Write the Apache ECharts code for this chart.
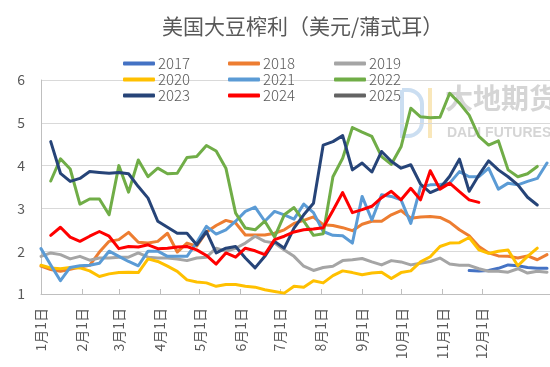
<!DOCTYPE html>
<html>
<head>
<meta charset="utf-8">
<script src="https://cdn.jsdelivr.net/npm/echarts@6/dist/echarts.min.js"></script>
<style>html,body{margin:0;padding:0;background:#fff}#c{width:550px;height:367px}</style>
</head>
<body>
<div id="c"></div>
<script>
// ---- data ----
const titleText = '美国大豆榨利（美元/蒲式耳）';
const monthLabels = ['1月1日','2月1日','3月1日','4月1日','5月1日','6月1日','7月1日','8月1日','9月1日','10月1日','11月1日','12月1日'];
const monthStartDays = [0,31,59,90,120,151,181,212,243,273,304,334];
const years = ['2017','2018','2019','2020','2021','2022','2023','2024','2025'];
const yearColors = ['#4472C4','#ED7D31','#A5A5A5','#FFC000','#5B9BD5','#70AD47','#264478','#FF0000','#636363'];
// weekly observation day (day of year) for each of the 53 weekly slots
const weekDays = Array.from({length: 53}, (_, k) => k * 7.37);

const v2017 = [null,null,null,null,null,null,null,null,null,null,
  null,null,null,null,null,null,null,null,null,null,
  null,null,null,null,null,null,null,null,null,null,
  null,null,null,null,null,null,null,null,null,null,
  null,null,null,null,1.55,1.54,1.55,1.60,1.68,1.66,
  1.62,1.60,1.60];
const v2018 = [1.65,1.57,1.53,1.58,1.63,1.67,1.98,2.23,2.27,2.44,
  2.21,2.19,2.23,2.42,1.98,2.19,2.12,2.45,2.60,2.72,
  2.66,2.38,2.38,2.38,2.42,2.50,2.65,2.72,2.80,2.62,
  2.60,2.55,2.48,2.63,2.70,2.70,2.85,2.95,2.77,2.80,
  2.81,2.79,2.68,2.50,2.36,2.11,1.96,1.89,1.88,1.84,
  1.89,1.80,1.92];
const v2019 = [1.88,1.96,1.92,1.82,1.88,1.79,1.84,1.84,1.86,1.86,
  1.96,1.86,1.84,1.84,1.82,1.78,1.84,1.86,2.07,2.00,
  2.07,2.19,2.35,2.23,2.19,2.03,1.88,1.65,1.55,1.62,
  1.65,1.78,1.80,1.83,1.75,1.68,1.78,1.75,1.68,1.72,
  1.76,1.84,1.70,1.67,1.67,1.59,1.53,1.53,1.51,1.59,
  1.49,1.53,1.51];
const v2020 = [1.67,1.61,1.59,1.62,1.61,1.54,1.41,1.47,1.50,1.51,
  1.50,1.82,1.76,1.65,1.53,1.33,1.28,1.26,1.18,1.22,
  1.22,1.18,1.16,1.10,1.06,1.02,1.18,1.16,1.31,1.26,
  1.43,1.54,1.50,1.45,1.49,1.51,1.36,1.50,1.54,1.75,
  1.87,2.11,2.19,2.20,2.32,2.03,1.95,2.00,2.03,1.66,
  1.88,2.07,null];
const v2021 = [2.06,1.68,1.31,1.62,1.66,1.67,1.72,2.00,1.88,1.76,
  1.66,2.00,2.00,1.88,1.88,1.88,2.20,2.58,2.40,2.50,
  2.70,2.93,3.03,2.70,2.93,2.85,2.75,3.10,2.90,2.46,
  2.37,2.36,2.19,3.28,2.73,3.32,3.28,3.20,2.65,3.50,
  3.55,3.56,3.59,3.86,3.74,3.74,3.94,3.45,3.59,3.55,
  3.63,3.70,4.06];
const v2022 = [null,3.64,4.16,3.92,3.10,3.22,3.22,2.85,4.00,3.38,
  4.13,3.74,3.94,3.81,3.82,4.19,4.21,4.47,4.34,3.94,
  2.89,2.54,2.50,2.70,2.33,2.85,3.02,2.70,2.37,2.41,
  3.74,4.17,4.89,4.78,4.68,4.21,4.03,4.44,5.34,5.14,
  5.12,5.13,5.69,5.46,5.18,4.68,4.48,4.58,3.90,3.74,
  3.81,3.98,null];
const v2023 = [null,4.56,3.82,3.63,3.70,3.86,3.84,3.82,3.84,3.81,
  3.51,3.24,2.70,2.56,2.42,2.42,2.15,2.46,1.96,2.07,
  2.11,1.84,1.61,1.88,2.23,2.07,2.54,2.85,3.12,4.48,
  4.56,4.70,3.90,4.06,3.85,4.33,4.10,3.94,4.02,3.57,
  3.37,3.47,3.75,4.15,3.40,3.78,4.11,3.90,3.74,3.55,
  3.26,3.08,null];
const v2024 = [null,2.37,2.56,2.33,2.23,2.35,2.46,2.35,2.06,2.11,
  2.10,2.15,2.06,2.07,2.10,2.11,2.03,1.90,1.70,1.96,
  1.86,2.07,2.01,1.92,2.27,2.35,2.45,2.50,2.52,2.55,
  2.95,3.37,2.90,2.97,3.05,3.25,3.40,3.20,3.47,3.20,
  3.88,3.45,3.59,3.39,3.20,3.14,null,null,null,null,
  null,null,null];
const v2025 = [];
const yearValues = [v2017,v2018,v2019,v2020,v2021,v2022,v2023,v2024,v2025];

// ---- chart ----
const chart = echarts.init(document.getElementById('c'), null, {renderer: 'canvas'});
const FONT = '"Noto Sans CJK SC", "Noto Sans", sans-serif';
const txt = '#595959';

const series = years.map((y, i) => ({
  name: y,
  type: 'line',
  symbol: 'none',
  color: yearColors[i],
  lineStyle: {width: 3, color: yearColors[i], cap: 'round', join: 'round'},
  data: yearValues[i].map((v, k) => [weekDays[k], v]),
  connectNulls: false,
  z: 3 + i
}));

function legendCol(names, left) {
  return {
    orient: 'vertical', left: left, top: 56, padding: 0, itemGap: 1,
    itemWidth: 32, itemHeight: 4, icon: 'roundRect',
    textStyle: {color: txt, fontSize: 15, fontFamily: FONT, fontWeight: 300, padding: [0,0,0,-2]},
    data: names
  };
}

chart.setOption({
  animation: false,
  backgroundColor: '#fff',
  title: {
    text: titleText, left: 162, top: 16, padding: 0,
    textStyle: {color: txt, fontSize: 21, fontWeight: 'normal', fontFamily: FONT}
  },
  legend: [
    legendCol(['2017','2020','2023'], 123),
    legendCol(['2018','2021','2024'], 228),
    legendCol(['2019','2022','2025'], 334)
  ],
  grid: {left: 41, right: 0, top: 80, bottom: 73, containLabel: false},
  graphic: [
    {type: 'rect', z: 0, silent: true, shape: {x: 402, y: 90, width: 20, height: 46, r: [0, 14, 14, 0]},
      style: {fill: 'none', stroke: 'rgba(160,195,230,0.55)', lineWidth: 4}},
    {type: 'line', z: 0, silent: true, shape: {x1: 430, y1: 88, x2: 430, y2: 138},
      style: {stroke: 'rgba(245,215,140,0.6)', lineWidth: 4}},
    {type: 'text', z: 0, silent: true, left: 445, top: 84,
      style: {text: '大地期货', fontSize: 28, fontWeight: 'bold', fontFamily: FONT, fill: 'rgba(195,195,195,0.7)'}},
    {type: 'text', z: 0, silent: true, left: 447, top: 126,
      style: {text: 'DADI FUTURES', fontSize: 14, fontWeight: 'bold', fontFamily: '"Liberation Sans", sans-serif', fill: 'rgba(195,195,195,0.7)'}}
  ],
  xAxis: {
    type: 'value', min: 0, max: 385.5,
    axisLine: {show: true, lineStyle: {color: '#BFBFBF', width: 1}},
    axisTick: {show: true, inside: true, length: 5, customValues: monthStartDays, lineStyle: {color: '#BFBFBF'}},
    axisLabel: {
      customValues: monthStartDays, rotate: 90, margin: 14,
      color: txt, fontSize: 14, fontFamily: FONT,
      formatter: v => monthLabels[monthStartDays.indexOf(Math.round(v))] || ''
    },
    splitLine: {show: false}
  },
  yAxis: {
    type: 'value', min: 1, max: 6, interval: 1,
    axisLine: {show: true, lineStyle: {color: '#BFBFBF'}},
    axisTick: {show: false},
    axisLabel: {color: txt, fontSize: 14, fontFamily: FONT, margin: 16},
    splitLine: {lineStyle: {color: '#D9D9D9', width: 1}}
  },
  series: series
});
</script>
</body>
</html>
